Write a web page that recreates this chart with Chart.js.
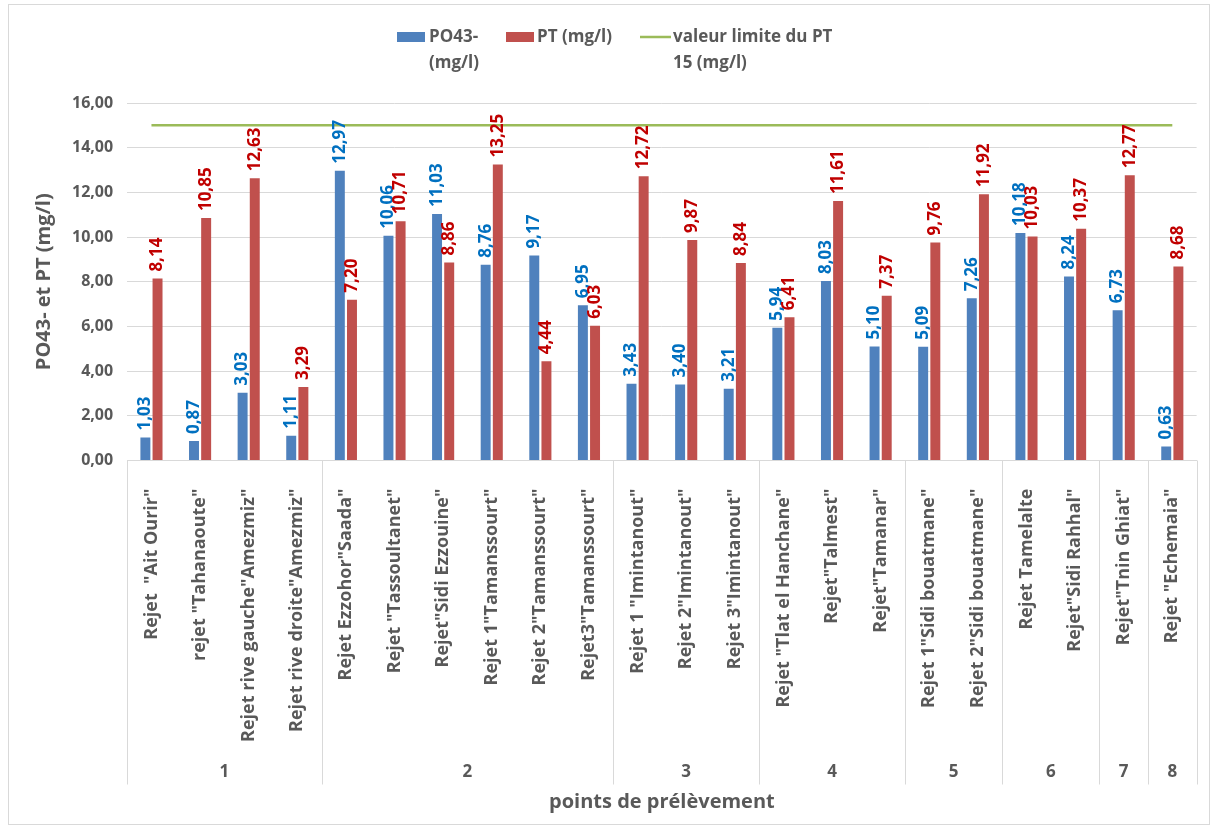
<!DOCTYPE html>
<html>
<head>
<meta charset="utf-8">
<script src="https://cdn.jsdelivr.net/npm/chart.js@4.4.1/dist/chart.umd.min.js"></script>
<style>
  html, body { margin: 0; padding: 0; background: #fff; }
  #wrap { position: relative; width: 1214px; height: 830px; }
  #frame { position: absolute; left: 8px; top: 4px; width: 1202px; height: 821px; border: 1px solid #d9d9d9; box-sizing: border-box; pointer-events: none; }
</style>
</head>
<body>
<div id="wrap">
  <canvas id="myChart" width="1214" height="830"></canvas>
  <div id="frame"></div>
</div>
<script>
// points de prelevement
const labels = [
  'Rejet  "Ait Ourir"', 'rejet "Tahanaoute"', 'Rejet rive gauche"Amezmiz"', 'Rejet rive droite"Amezmiz"',
  'Rejet Ezzohor"Saada"', 'Rejet "Tassoultanet"', 'Rejet"Sidi Ezzouine"', 'Rejet 1"Tamanssourt"',
  'Rejet 2"Tamanssourt"', 'Rejet3"Tamanssourt"', 'Rejet 1 "Imintanout"', 'Rejet 2"Imintanout"',
  'Rejet 3"Imintanout"', 'Rejet "Tlat el Hanchane"', 'Rejet"Talmest"', 'Rejet"Tamanar"',
  'Rejet 1"Sidi bouatmane"', 'Rejet 2"Sidi bouatmane"', 'Rejet Tamelalte', 'Rejet"Sidi Rahhal"',
  'Rejet"Tnin Ghiat"', 'Rejet "Echemaia"'
];
const po43 = [1.03, 0.87, 3.03, 1.11, 12.97, 10.06, 11.03, 8.76, 9.17, 6.95, 3.43, 3.40, 3.21, 5.94, 8.03, 5.10, 5.09, 7.26, 10.18, 8.24, 6.73, 0.63];
const pt = [8.14, 10.85, 12.63, 3.29, 7.20, 10.71, 8.86, 13.25, 4.44, 6.03, 12.72, 9.87, 8.84, 6.41, 11.61, 7.37, 9.76, 11.92, 10.03, 10.37, 12.77, 8.68];
const limitePT = 15;
const groupLabels = ['1', '2', '3', '4', '5', '6', '7', '8'];
const groupSizes = [4, 6, 3, 3, 2, 2, 1, 1];
const yTicks = [0, 2, 4, 6, 8, 10, 12, 14, 16];

const FONT = "'Open Sans', sans-serif";
const GREY = '#595959';
const fmt = v => v.toFixed(2).replace('.', ',');

const barLabels = {
  id: 'barLabels',
  afterDatasetsDraw(chart) {
    const ctx = chart.ctx;
    const colors = ['#0070C0', '#C00000'];
    [0, 1].forEach(di => {
      const meta = chart.getDatasetMeta(di);
      const data = chart.data.datasets[di].data;
      meta.data.forEach((bar, i) => {
        ctx.save();
        ctx.translate(bar.x, bar.y - 7);
        ctx.rotate(-Math.PI / 2);
        ctx.font = 'bold 17px ' + FONT;
        ctx.fillStyle = colors[di];
        ctx.textAlign = 'left';
        ctx.textBaseline = 'middle';
        ctx.fillText(fmt(data[i]), 0, 0);
        ctx.restore();
      });
    });
  }
};

const groupRow = {
  id: 'groupRow',
  afterDraw(chart) {
    const ctx = chart.ctx;
    const x = chart.scales.x;
    const area = chart.chartArea;
    const edge = i => {
      if (i <= 0) return area.left;
      if (i >= labels.length) return area.right;
      return (x.getPixelForValue(i - 1) + x.getPixelForValue(i)) / 2;
    };
    ctx.save();
    ctx.strokeStyle = '#d9d9d9';
    ctx.lineWidth = 1;
    let start = 0;
    const bounds = [0];
    groupSizes.forEach(n => { start += n; bounds.push(start); });
    bounds.forEach(b => {
      const px = Math.round(edge(b)) + 0.5;
      ctx.beginPath();
      ctx.moveTo(px, area.bottom);
      ctx.lineTo(px, area.bottom + 324);
      ctx.stroke();
    });
    ctx.font = 'bold 17px ' + FONT;
    ctx.fillStyle = GREY;
    ctx.textAlign = 'center';
    ctx.textBaseline = 'middle';
    groupLabels.forEach((g, k) => {
      const cx = (edge(bounds[k]) + edge(bounds[k + 1])) / 2;
      ctx.fillText(g, cx, area.bottom + 312);
    });
    ctx.restore();
  }
};

const legendDraw = {
  id: 'legendDraw',
  afterDraw(chart) {
    const ctx = chart.ctx;
    ctx.save();
    ctx.font = 'bold 17px ' + FONT;
    ctx.textBaseline = 'middle';
    ctx.textAlign = 'left';
    ctx.fillStyle = '#4F81BD';
    ctx.fillRect(397, 32, 28, 10);
    ctx.fillStyle = GREY;
    ctx.fillText('PO43-', 429, 37);
    ctx.fillText('(mg/l)', 429, 63);
    ctx.fillStyle = '#C0504D';
    ctx.fillRect(506, 32, 28, 10);
    ctx.fillStyle = GREY;
    ctx.fillText('PT (mg/l)', 537, 37);
    ctx.strokeStyle = '#9BBB59';
    ctx.lineWidth = 2.5;
    ctx.beginPath();
    ctx.moveTo(640, 37);
    ctx.lineTo(671, 37);
    ctx.stroke();
    ctx.fillText('valeur limite du PT', 673, 37);
    ctx.fillText('15 (mg/l)', 673, 63);
    ctx.restore();
  }
};

new Chart(document.getElementById('myChart'), {
  type: 'bar',
  data: {
    labels: labels,
    datasets: [
      { label: 'PO43- (mg/l)', data: po43, backgroundColor: '#4F81BD', categoryPercentage: 0.5, barPercentage: 0.82, order: 2 },
      { label: 'PT (mg/l)', data: pt, backgroundColor: '#C0504D', categoryPercentage: 0.5, barPercentage: 0.82, order: 2 },
      { type: 'line', label: 'valeur limite du PT 15 (mg/l)', data: labels.map(() => limitePT), borderColor: '#9BBB59', borderWidth: 2.5, pointRadius: 0, fill: false, order: 1 }
    ]
  },
  options: {
    responsive: false,
    animation: false,
    layout: { padding: { top: 103, left: 28, right: 4, bottom: 12 } },
    plugins: { legend: { display: false }, tooltip: { enabled: false } },
    scales: {
      y: {
        min: 0, max: 16,
        afterBuildTicks: s => { s.ticks = yTicks.map(v => ({ value: v })); },
        ticks: { callback: v => fmt(v), color: GREY, font: { family: FONT, size: 16, weight: 'bold' }, padding: 14 },
        grid: { color: '#d9d9d9', drawTicks: false },
        border: { display: false },
        title: { display: true, text: 'PO43- et PT (mg/l)', color: GREY, font: { family: FONT, size: 20, weight: 'bold' }, padding: { bottom: 2 } }
      },
      x: {
        ticks: { minRotation: 90, maxRotation: 90, autoSkip: false, color: GREY, font: { family: FONT, size: 18, weight: 'bold' }, padding: 20 },
        grid: { display: false },
        border: { color: '#d9d9d9' },
        title: { display: true, text: 'points de prélèvement', color: GREY, font: { family: FONT, size: 20, weight: 'bold' }, padding: { top: 56, bottom: 4 } }
      }
    }
  },
  plugins: [barLabels, groupRow, legendDraw]
});
</script>
</body>
</html>
